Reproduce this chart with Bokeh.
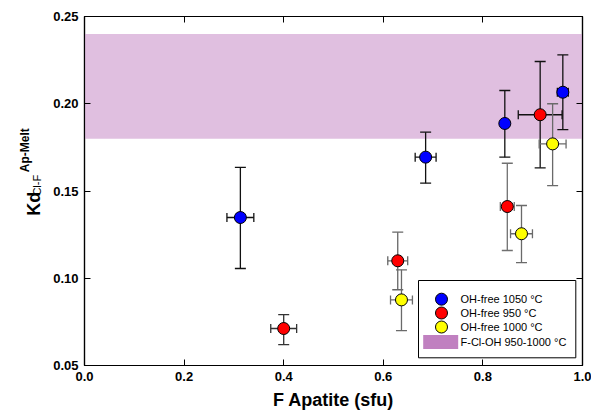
import numpy as np
from bokeh.plotting import figure
from bokeh.layouts import row
from bokeh.models import (ColumnDataSource, Whisker, TeeHead, LinearAxis, Range1d,
                          FixedTicker, PrintfTickFormatter, Label)
from bokeh.core.properties import value
from bokeh.embed import file_html
from bokeh.resources import INLINE

# ---- data ----
blue_x = [0.313, 0.685, 0.844, 0.9605]
blue_y = [0.1348, 0.1694, 0.1887, 0.2066]
blue_ylo = [0.1056, 0.1545, 0.1694, 0.1852]
blue_yhi = [0.1635, 0.1837, 0.2076, 0.2280]
blue_xerr = [0.027, 0.021, 0.005, 0.011]

red_x = [0.400, 0.629, 0.849, 0.915]
red_y = [0.0712, 0.1100, 0.1411, 0.1937]
red_ylo = [0.0620, 0.0934, 0.1159, 0.1633]
red_yhi = [0.0792, 0.1264, 0.1659, 0.2242]
red_xerr = [0.026, 0.020, 0.014, 0.044]

yel_x = [0.6365, 0.8775, 0.940]
yel_y = [0.0876, 0.1255, 0.1770]
yel_ylo = [0.0700, 0.1089, 0.1531]
yel_yhi = [0.1048, 0.1417, 0.2000]
yel_xerr = [0.022, 0.022, 0.027]

band_lo = [0.18]
band_hi = [0.24]

x_ticks = [0.0, 0.2, 0.4, 0.6, 0.8, 1.0]
y_ticks = [0.05, 0.10, 0.15, 0.20, 0.25]

labels = ["OH-free 1050 \u00b0C", "OH-free 950 \u00b0C", "OH-free 1000 \u00b0C",
          "F-Cl-OH 950-1000 \u00b0C"]
colors = ["#0000FF", "#FF0000", "#FFFF00"]

FONT = "Liberation Sans"
W, H = 591, 417
SIDE = 50  # width of the strip that carries the y-axis title

# frame position in page pixels (used only to place legend / title pieces)
FL, FR, FT, FB = 84, 582, 16, 365
def dx(px):
    return (px - FL) / (FR - FL)
def dy(py):
    return 0.25 - (py - FT) / (FB - FT) * 0.2

p = figure(width=W - SIDE, height=H, output_backend="svg", toolbar_location=None,
           x_range=Range1d(0, 1), y_range=Range1d(0.05, 0.25),
           min_border_left=FL - SIDE, min_border_right=W - FR, min_border_top=FT,
           min_border_bottom=H - FB)
p.grid.visible = False
p.outline_line_color = "black"
p.outline_line_width = 1.2

# band
band_src = ColumnDataSource(dict(left=[0.0], right=[1.0], bottom=band_lo, top=band_hi))
p.quad(left="left", right="right", bottom="bottom", top="top", source=band_src,
       fill_color="#E0BFE0", line_color=None, level="underlay")

series = [
    (blue_x, blue_y, blue_ylo, blue_yhi, blue_xerr, colors[0], ["#111111"] * 4),
    (red_x, red_y, red_ylo, red_yhi, red_xerr, colors[1], ["#333333", "#666666", "#707070", "#111111"]),
    (yel_x, yel_y, yel_ylo, yel_yhi, yel_xerr, colors[2], ["#6a6a6a"] * 3),
]

for xs, ys, ylo, yhi, xe, col, ecol in series:
    xs_a = np.array(xs); xe_a = np.array(xe)
    src = ColumnDataSource(dict(x=xs, y=ys, ylo=ylo, yhi=yhi,
                                xlo=list(xs_a - xe_a), xhi=list(xs_a + xe_a), ec=ecol))
    wv = Whisker(base="x", lower="ylo", upper="yhi", dimension="height", source=src,
                 line_color="ec", line_width=1.3, level="underlay",
                 upper_head=TeeHead(size=11, line_color="ec", line_width=1.3),
                 lower_head=TeeHead(size=11, line_color="ec", line_width=1.3))
    wh = Whisker(base="y", lower="xlo", upper="xhi", dimension="width", source=src,
                 line_color="ec", line_width=1.3, level="underlay",
                 upper_head=TeeHead(size=9, line_color="ec", line_width=1.3),
                 lower_head=TeeHead(size=9, line_color="ec", line_width=1.3))
    p.add_layout(wv)
    p.add_layout(wh)
for xs, ys, ylo, yhi, xe, col, ecol in series:
    p.scatter(xs, ys, size=12, marker="circle", fill_color=col, line_color="black",
              line_width=1)

# axes
for ax in (p.xaxis[0], p.yaxis[0]):
    ax.major_tick_in = 6
    ax.major_tick_out = 0
    ax.minor_tick_line_color = None
    ax.axis_line_color = "black"
    ax.axis_line_width = 1.2
    ax.major_label_text_font = FONT
    ax.major_label_text_font_style = "bold"
    ax.major_label_text_font_size = "13px"
    ax.major_label_text_color = "black"
p.xaxis[0].ticker = FixedTicker(ticks=x_ticks)
p.yaxis[0].ticker = FixedTicker(ticks=y_ticks)
p.xaxis[0].formatter = PrintfTickFormatter(format="%.1f")
p.yaxis[0].formatter = PrintfTickFormatter(format="%.2f")
p.xaxis[0].major_label_standoff = 6
p.yaxis[0].major_label_standoff = 6
p.xaxis[0].axis_label = "F Apatite (sfu)"
p.xaxis[0].axis_label_text_font = FONT
p.xaxis[0].axis_label_text_font_style = "bold"
p.xaxis[0].axis_label_text_font_size = "18px"
p.xaxis[0].axis_label_standoff = 6
p.xaxis[0].axis_label_text_color = "black"

top = LinearAxis(ticker=FixedTicker(ticks=x_ticks), major_label_text_font_size="0px",
                 major_tick_in=6, major_tick_out=0, minor_tick_line_color=None,
                 axis_line_color="black", axis_line_width=1.2, major_label_standoff=0)
right = LinearAxis(ticker=FixedTicker(ticks=y_ticks), major_label_text_font_size="0px",
                   major_tick_in=6, major_tick_out=0, minor_tick_line_color=None,
                   axis_line_color="black", axis_line_width=1.2, major_label_standoff=0)
top.major_label_text_color = None
right.major_label_text_color = None
p.add_layout(top, "above")
p.add_layout(right, "right")

# ---- legend, drawn by hand ----
p.quad(left=[dx(418)], right=[dx(575.3)], top=[dy(280)], bottom=[dy(357.3)],
       fill_color="white", line_color="black", line_width=1)
row_py = [298.7, 312.5, 326.5, 341.5]
p.scatter([dx(441)] * 3, [dy(v) for v in row_py[:3]], size=12, marker="circle",
          fill_color=colors, line_color="black", line_width=1)
p.quad(left=[dx(422.7)], right=[dx(457.7)], top=[dy(334.5)], bottom=[dy(348.5)],
       fill_color="#C080C0", line_color=None)
p.text(x=[dx(460)] * 4, y=[dy(v) for v in row_py], text=labels, text_font=value(FONT),
       text_font_size="11px", text_baseline="middle", text_align="left", text_color="black")

# ---- y-axis title strip: Kd_{Cl-F}^{Ap-Melt} ----
s = figure(width=SIDE, height=H, output_backend="svg", toolbar_location=None,
           x_range=Range1d(0, SIDE), y_range=Range1d(0, H),
           min_border=0, min_border_left=0, min_border_right=0,
           min_border_top=0, min_border_bottom=0)
s.axis.visible = False
s.grid.visible = False
s.outline_line_color = None
s.add_layout(Label(x=33, y=H - 238, text="Kd", angle=90, angle_units="deg",
                   text_font=FONT, text_font_style="bold", text_font_size="18px",
                   text_align="left", text_baseline="alphabetic", text_color="black"))
s.add_layout(Label(x=36, y=H - 214, text="Cl-F", angle=90, angle_units="deg",
                   text_font=FONT, text_font_size="11px",
                   text_align="left", text_baseline="alphabetic", text_color="black"))
s.add_layout(Label(x=24.5, y=H - 186, text="Ap-Melt", angle=90, angle_units="deg",
                   text_font=FONT, text_font_style="bold", text_font_size="12px",
                   text_align="left", text_baseline="alphabetic", text_color="black"))

layout = row(s, p, spacing=0)
open("out.html", "w").write(file_html(layout, INLINE))
